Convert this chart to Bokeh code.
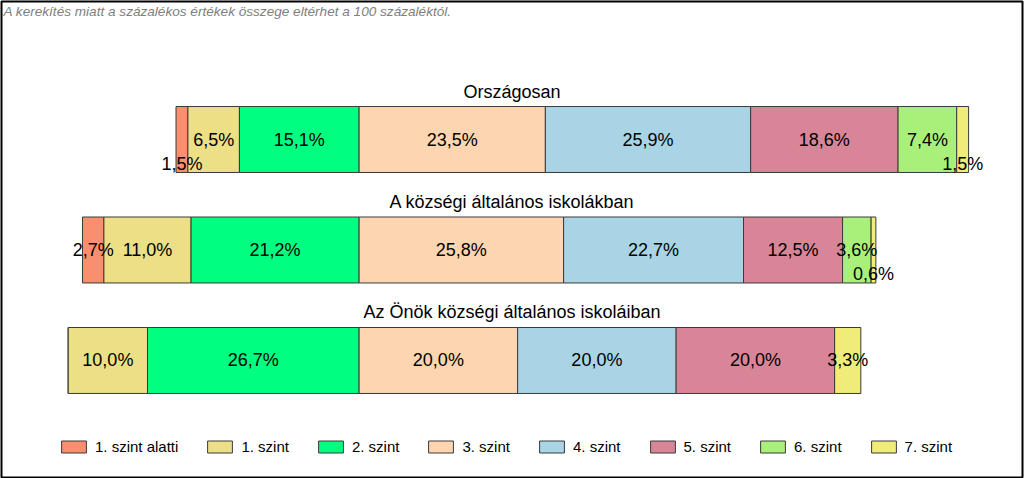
from bokeh.plotting import figure
from bokeh.models import Range1d, Legend, LegendItem, ColumnDataSource
from bokeh.embed import file_html
from bokeh.resources import INLINE
from bokeh.core.properties import value

# ---- data ----
groups = ["Országosan", "A községi általános iskolákban", "Az Önök községi általános iskoláiban"]
levels = ["1. szint alatti", "1. szint", "2. szint", "3. szint", "4. szint", "5. szint", "6. szint", "7. szint"]
szint_alatti = [1.5, 2.7, 0.0]
szint_1 = [6.5, 11.0, 10.0]
szint_2 = [15.1, 21.2, 26.7]
szint_3 = [23.5, 25.8, 20.0]
szint_4 = [25.9, 22.7, 20.0]
szint_5 = [18.6, 12.5, 20.0]
szint_6 = [7.4, 3.6, 0.0]
szint_7 = [1.5, 0.6, 3.3]
note = "A kerekítés miatt a  százalékos értékek összege eltérhet a 100 százaléktól."

series = [szint_alatti, szint_1, szint_2, szint_3, szint_4, szint_5, szint_6, szint_7]
colors = ["#F98F6F", "#ECDF86", "#00FF80", "#FDD5B0", "#A8D4E6", "#D98598", "#A9F07A", "#F0EC7A"]

FONT_NAME = "Liberation Sans"
FONT = value(FONT_NAME)
X0, X1 = -45.12, 83.70
Y0, Y1 = 3.059, -1.249

p = figure(width=1024, height=478, output_backend="svg", toolbar_location=None,
           x_range=Range1d(X0, X1), y_range=Range1d(Y0, Y1),
           x_axis_location=None, y_axis_location=None,
           min_border_left=1, min_border_right=2, min_border_top=1, min_border_bottom=1)
p.grid.visible = False
p.outline_line_color = "black"
p.outline_line_width = 2
p.background_fill_color = "white"
p.border_fill_color = "white"

rows = list(range(len(groups)))
# bars aligned on the boundary between "2. szint" and "3. szint"
starts = [-(series[0][i] + series[1][i] + series[2][i]) for i in rows]

lab_x, lab_y, lab_t, lab_dy = [], [], [], []
cum = list(starts)
items = []
for j, (lvl, vals, col) in enumerate(zip(levels, series, colors)):
    left = [cum[i] for i in rows]
    right = [cum[i] + vals[i] for i in rows]
    src = ColumnDataSource(dict(y=rows, left=left, right=right))
    r = p.hbar(y="y", left="left", right="right", height=0.597, source=src,
               fill_color=col, line_color="#3a3a3a", line_width=1)
    items.append(LegendItem(label=lvl, renderers=[r]))
    for i in rows:
        v = vals[i]
        if v > 0:
            lab_x.append((left[i] + right[i]) / 2)
            lab_y.append(i)
            lab_t.append(f"{v:.1f}".replace(".", ",") + "%")
            lab_dy.append(24 if v < 2 else 0)
        cum[i] = right[i]

p.text(x="x", y="y", text="t", y_offset="dy",
       source=ColumnDataSource(dict(x=lab_x, y=lab_y, t=lab_t, dy=lab_dy)),
       text_align="center", text_baseline="middle", text_font=FONT,
       text_font_size="18px", text_color="black")

xc = (X0 + X1) / 2
p.text(x=[xc] * len(groups), y=rows, text=groups, y_offset=-48,
       text_align="center", text_baseline="middle", text_font=FONT,
       text_font_size="18px", text_color="black")

p.text(x=[X0], y=[Y1], text=[note], x_offset=2, y_offset=2,
       text_align="left", text_baseline="top", text_font=FONT,
       text_font_style="italic", text_font_size="13.6px", text_color="#808080")

legend = Legend(items=items, orientation="horizontal", location=(57, 22),
                glyph_width=31, glyph_height=15, label_height=15,
                label_standoff=6, spacing=26, padding=0, margin=0,
                label_text_font=FONT_NAME, label_text_font_size="15px",
                label_text_color="black",
                border_line_color=None, background_fill_alpha=0)
p.add_layout(legend)

open("out.html", "w").write(file_html(p, INLINE))
